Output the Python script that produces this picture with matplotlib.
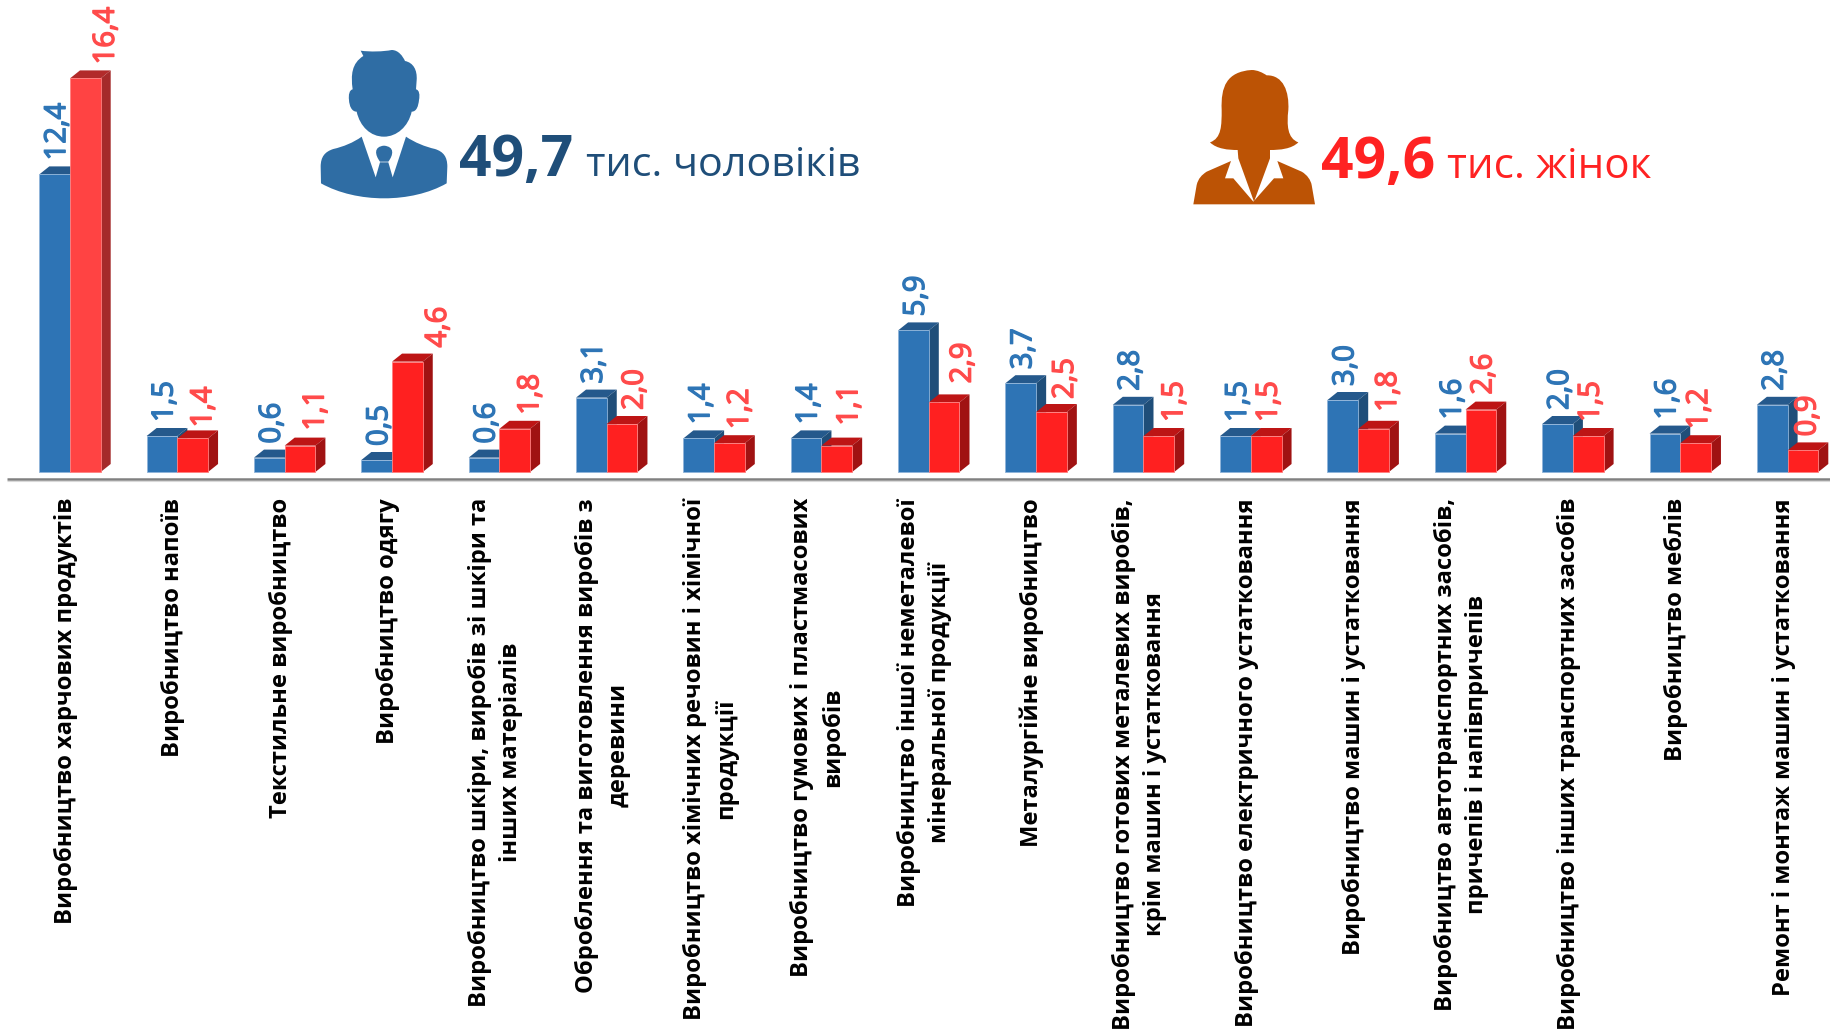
#coding:utf8

import matplotlib
matplotlib.use("Agg")
import matplotlib.pyplot as plt
import matplotlib.patheffects as pe
from matplotlib.patches import PathPatch
from matplotlib.path import Path

plt.rcParams["font.family"] = ["Open Sans", "DejaVu Sans"]

# Дані
categories = [
    "Виробництво харчових продуктів",
    "Виробництво напоїв",
    "Текстильне виробництво",
    "Виробництво одягу",
    "Виробництво шкіри, виробів зі шкіри та\nінших матеріалів",
    "Оброблення та виготовлення виробів з\nдеревини",
    "Виробництво хімічних речовин і хімічної\nпродукції",
    "Виробництво гумових і пластмасових\nвиробів",
    "Виробництво іншої неметалевої\nмінеральної продукції",
    "Металургійне виробництво",
    "Виробництво готових металевих виробів,\nкрім машин і устатковання",
    "Виробництво електричного устатковання",
    "Виробництво машин і устатковання",
    "Виробництво автотранспортних засобів,\nпричепів і напівпричепів",
    "Виробництво інших транспортних засобів",
    "Виробництво меблів",
    "Ремонт і монтаж машин і устатковання",
]
men = [12.4, 1.5, 0.6, 0.5, 0.6, 3.1, 1.4, 1.4, 5.9, 3.7, 2.8, 1.5, 3.0, 1.6, 2.0, 1.6, 2.8]
women = [16.4, 1.4, 1.1, 4.6, 1.8, 2.0, 1.2, 1.1, 2.9, 2.5, 1.5, 1.5, 1.8, 2.6, 1.5, 1.2, 0.9]

# Зсув підписів жінок, пікселі
women_dx = [20, 10, 15, 30, 15, 12, 10, 12, 18, 13, 15, 2, 14, 2, 2, 3, 4]
women_dy = [14, 11, 15, 14, 14, 14, 14, 20, 19, 13, 14, 14, 17, 15, 14, 14, 14]

W, H = 1831, 1031
BASE_Y = 472     # базова лінія стовпчиків, пікселі
PX_UNIT = 24.0   # пікселів на одиницю
STEP = 107.35    # крок груп, пікселі
X0 = 70.0        # центр першої групи, пікселі

fig = plt.figure(figsize=(W / 100, H / 100), dpi=100, facecolor="white")
ax = fig.add_axes([0, 0, 1, 1])
ax.set_xlim(-X0 / STEP, (W - X0) / STEP)
ax.set_ylim(-(H - BASE_Y) / PX_UNIT, BASE_Y / PX_UNIT)
ax.axis("off")

bar_w = 30.7 / STEP
dx = 10 / STEP
dy = 8 / PX_UNIT


def bar3d(x, v, front, top, side, edge):
    l = x - bar_w / 2
    r = x + bar_w / 2
    ax.fill([l, l + dx, r + dx, r], [v, v + dy, v + dy, v], color=top, lw=0)
    ax.fill([r, r + dx, r + dx, r], [0, dy, v + dy, v], color=side, lw=0)
    ax.bar(x, v, bar_w, color=front, edgecolor=edge, linewidth=0.6)


def value_label(x, v, off, color):
    t = ax.annotate(str(v).replace(".", ","), (x, v), xytext=off, textcoords="offset pixels",
                    rotation=90, ha="center", va="bottom", fontsize=21, color=color)
    t.set_path_effects([pe.withStroke(linewidth=1.0, foreground=color)])


for i in range(len(categories)):
    bar3d(i - bar_w / 2, men[i], "#2E74B5", "#25598C", "#1F4E79", "#8FB4D9")
    if i == 0:
        bar3d(i + bar_w / 2, women[i], "#FF4343", "#B22A2A", "#A52A2A", "#FF8080")
    else:
        bar3d(i + bar_w / 2, women[i], "#FF2020", "#BD1515", "#A01212", "#FF8080")

    value_label(i - bar_w / 2, men[i], (3, 14), "#2E75B6")
    value_label(i + bar_w / 2, women[i], (women_dx[i] + 1, women_dy[i]), "#FF4B4B")

    ax.text(i - 4 / STEP, -26 / PX_UNIT, categories[i], rotation=90, ha="center", va="top",
            multialignment="center", fontsize=17.1, fontweight="bold", color="black", linespacing=1.4)

# Вісь
ax.plot([-X0 / STEP + 7 / STEP, (W - X0) / STEP], [-7 / PX_UNIT, -7 / PX_UNIT], color="#808080", lw=1.8, solid_capstyle="butt")
ax.plot([-X0 / STEP + 7 / STEP, (W - X0) / STEP], [-9 / PX_UNIT, -9 / PX_UNIT], color="#D9D9D9", lw=0.8, solid_capstyle="butt")

# Шар для піктограм, координати у пікселях
ov = fig.add_axes([0, 0, 1, 1], facecolor="none")
ov.set_xlim(0, W)
ov.set_ylim(H, 0)
ov.axis("off")


def shape(segments, ox, oy, color):
    verts = []
    codes = []
    for n, s in enumerate(segments):
        if n == 0:
            verts.append(s)
            codes.append(Path.MOVETO)
        elif len(s) == 2 and not isinstance(s[0], tuple):
            verts.append(s)
            codes.append(Path.LINETO)
        else:
            verts.extend(s)
            codes.extend([Path.CURVE4] * 3)
    verts.append(verts[0])
    codes.append(Path.CLOSEPOLY)
    verts = [(ox + x / 3, oy + y / 3) for x, y in verts]
    ov.add_patch(PathPatch(Path(verts, codes), facecolor=color, edgecolor="none"))


man_head = [
    (1082, 152), ((1110, 156), (1150, 155), (1175, 150)), ((1195, 150), (1208, 168), (1215, 183)),
    ((1240, 188), (1252, 210), (1250, 240)), (1248, 268), ((1258, 270), (1260, 285), (1257, 300)),
    ((1255, 318), (1250, 335), (1235, 335)), ((1225, 380), (1190, 410), (1152, 410)),
    ((1112, 410), (1080, 380), (1070, 335)), ((1055, 335), (1048, 318), (1047, 300)),
    ((1045, 285), (1048, 270), (1058, 268)), ((1052, 225), (1055, 190), (1090, 168)),
]
man_body = [
    (1085, 410), ((1060, 428), (1030, 440), (1000, 447)), ((975, 455), (962, 470), (962, 500)),
    (963, 550), ((1070, 610), (1235, 610), (1340, 550)), (1342, 500),
    ((1342, 470), (1330, 455), (1305, 447)), ((1275, 440), (1245, 428), (1218, 410)),
    (1178, 532), (1165, 487), (1140, 487), (1127, 532),
]
man_knot = [
    (1165, 485), (1140, 485), ((1125, 465), (1120, 440), (1152, 437)), ((1185, 440), (1180, 465), (1165, 485)),
]
shape(man_head, 0, 0, "#2F6DA4")
shape(man_body, 0, 0, "#2F6DA4")
shape(man_knot, 0, 0, "#2F6DA4")

woman_hair = [
    (245, 60), ((262, 60), (278, 68), (290, 76)), ((340, 75), (358, 125), (355, 180)),
    ((350, 225), (352, 265), (385, 277)), ((365, 297), (330, 300), (300, 300)), (300, 325),
    (252, 455), (205, 325), (203, 300), ((175, 300), (140, 297), (120, 277)),
    ((155, 265), (155, 225), (155, 180)), ((152, 110), (170, 65), (245, 60)),
]
woman_body = [
    (183, 333), (165, 385), (190, 385), (250, 455), (312, 385), (340, 385), (322, 333),
    (395, 365), ((412, 375), (422, 390), (425, 405)), (435, 463), (70, 463),
    (80, 405), ((85, 385), (95, 375), (110, 365)),
]
shape(woman_hair, 1170, 50, "#BC5305")
shape(woman_body, 1170, 50, "#BC5305")

ov.text(459, 176, "49,7", fontsize=41, fontweight="bold", color="#1F4E79", va="baseline")
ov.text(586, 176, "тис. чоловіків", fontsize=29.7, color="#1F4E79", va="baseline")
ov.text(1321, 178, "49,6", fontsize=41, fontweight="bold", color="#FF2222", va="baseline")
ov.text(1447, 178, "тис. жінок", fontsize=30.3, color="#FF2222", va="baseline")

fig.savefig("out.png", dpi=100)
plt.close()
